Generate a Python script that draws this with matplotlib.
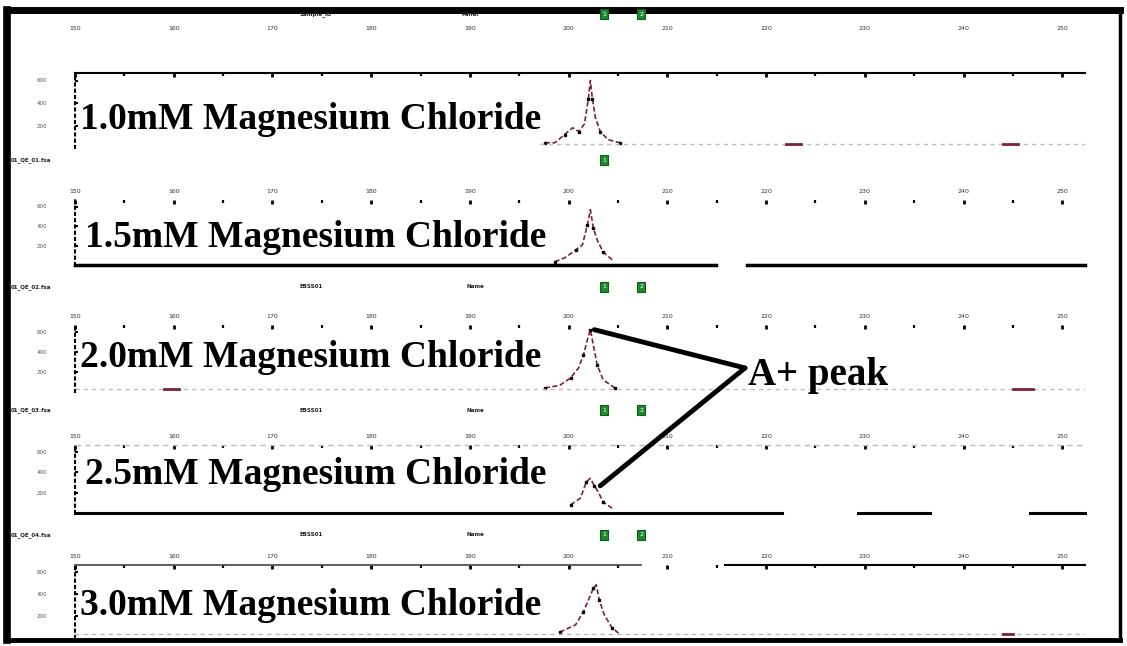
import matplotlib
matplotlib.use('Agg')
import matplotlib.pyplot as plt
from matplotlib.lines import Line2D
from matplotlib.patches import ConnectionPatch

# Mg2+ titration, five electropherogram panels (fragment size in bp)
labels = ['1.0mM Magnesium Chloride', '1.5mM Magnesium Chloride',
          '2.0mM Magnesium Chloride', '2.5mM Magnesium Chloride',
          '3.0mM Magnesium Chloride']
sample_names = ['', '01_QE_01.fsa', '01_QE_02.fsa', '01_QE_03.fsa', '01_QE_04.fsa']
size_ticks = [150, 160, 170, 180, 190, 200, 210, 220, 230, 240, 250]
rfu_ticks = [0.3, 0.6, 0.9]
rfu_labels = ['200', '400', '600']

# trace points (bp, relative height)
p1_x = [197.6, 198.6, 199.6, 200.4, 201.0, 201.6, 202.0, 202.2, 202.4, 202.7, 203.2, 204.0, 205.2]
p1_y = [0.07, 0.07, 0.18, 0.27, 0.22, 0.32, 0.66, 0.90, 0.66, 0.41, 0.22, 0.11, 0.07]
p2_x = [198.6, 199.6, 200.7, 201.4, 201.9, 202.2, 202.5, 202.9, 203.5, 204.4]
p2_y = [0.05, 0.11, 0.23, 0.31, 0.62, 0.85, 0.57, 0.38, 0.20, 0.08]
p3_x = [197.6, 199.1, 200.2, 201.0, 201.5, 201.9, 202.2, 202.5, 202.9, 203.5, 204.7]
p3_y = [0.06, 0.10, 0.21, 0.36, 0.55, 0.78, 0.93, 0.70, 0.40, 0.18, 0.06]
p4_x = [200.2, 201.2, 201.8, 202.2, 202.6, 203.0, 203.5, 204.4]
p4_y = [0.12, 0.22, 0.46, 0.51, 0.40, 0.31, 0.16, 0.07]
p5_x = [199.1, 200.7, 201.5, 202.0, 202.5, 202.8, 203.1, 203.6, 204.4, 205.2]
p5_y = [0.08, 0.18, 0.36, 0.52, 0.68, 0.73, 0.52, 0.32, 0.14, 0.05]
traces = [(p1_x, p1_y), (p2_x, p2_y), (p3_x, p3_y), (p4_x, p4_y), (p5_x, p5_y)]

# small off-peak blips on the baseline (bp start, bp end)
blips = [[(222.0, 223.5), (244.0, 245.5)], [], [(159.0, 160.5), (245.0, 247.0)], [], [(244.0, 245.0)]]

# where the A+ peak arrow touches panels 3 and 4
apeak_x = [202.6, 203.2]
apeak_y = [0.93, 0.40]

# panel boxes in figure pixels: (top, bottom)
panel_px = [(73, 148), (200, 265), (325, 392), (445, 513), (565, 638)]
text_y = [0.38, 0.42, 0.52, 0.56, 0.45]
header_y = [14, 160, 287, 410, 535]
# visible extent of the grey baseline in each panel (axes fraction), None = hidden
baseline_span = [(0.46, 1.0), None, (0.0, 1.0), None, (0.0, 1.0)]

W, H = 1127, 646
fig = plt.figure(figsize=(W / 100, H / 100), dpi=100)
serif = ['Liberation Serif', 'DejaVu Serif']
trace_col = '#7d2040'

axes = []
for i, (top, bot) in enumerate(panel_px):
    ax = fig.add_axes([75 / W, 1 - bot / H, 1010 / W, (bot - top) / H])
    axes.append(ax)
    ax.set_xlim(150, 252.3)
    ax.set_ylim(0, 1)
    ax.patch.set_alpha(0)

    ax.xaxis.tick_top()
    ax.set_xticks(size_ticks)
    ax.set_xticklabels([str(t) for t in size_ticks])
    ax.set_xticks([t + 5 for t in size_ticks[:-1]], minor=True)
    pad = 30 if i == 0 else 4
    ax.tick_params(axis='x', which='major', direction='in', length=3, width=2,
                   labelsize=4.5, pad=pad, labelcolor='#333333')
    ax.tick_params(axis='x', which='minor', direction='in', length=2, width=1.6,
                   top=True, bottom=False)
    ax.set_yticks(rfu_ticks)
    ax.set_yticklabels(rfu_labels)
    ax.tick_params(axis='y', direction='in', length=2, width=1.5,
                   labelsize=4, pad=20, labelcolor='#555555')

    for s in ['right', 'top', 'bottom']:
        ax.spines[s].set_visible(False)
    ax.spines['left'].set_linestyle((0, (1, 2)))
    ax.spines['left'].set_linewidth(1.5)

    # trace
    tx, ty = traces[i]
    ax.plot(tx, ty, color=trace_col, lw=1.2, ls=(0, (3, 1.5)))
    ax.plot(tx[::2], ty[::2], ls='none', marker='s', ms=1.8, color='black')

    # baseline
    if baseline_span[i] is not None:
        a, b = baseline_span[i]
        ax.axhline(0.05, xmin=a, xmax=b, color='#bbbbbb', lw=1, ls=(0, (3, 3)))
    for a, b in blips[i]:
        ax.plot([a, b], [0.05, 0.05], color=trace_col, lw=2)

    ax.text(0.005 if i in (0, 2, 4) else 0.01, text_y[i], labels[i],
            transform=ax.transAxes, fontsize=27, fontweight='bold',
            family=serif, va='center', ha='left')

# panel frame lines
frame = dict(clip_on=False)
axes[0].axhline(1, color='black', lw=1.5, **frame)
axes[1].axhline(0, xmax=0.635, color='black', lw=2.5, **frame)
axes[1].axhline(0, xmin=0.665, color='black', lw=2.5, **frame)
axes[3].axhline(1, color='#bbbbbb', lw=1, ls=(0, (4, 3)), **frame)
axes[3].axhline(0, xmax=0.70, color='black', lw=2.2, **frame)
axes[3].axhline(0, xmin=0.775, xmax=0.847, color='black', lw=2.2, **frame)
axes[3].axhline(0, xmin=0.946, color='black', lw=2.2, **frame)
axes[4].axhline(1, xmax=0.56, color='#444444', lw=1.2, **frame)
axes[4].axhline(1, xmin=0.644, color='black', lw=1.5, **frame)

# sample header strip above each panel
for i, hy in enumerate(header_y):
    y = 1 - hy / H
    fs = dict(fontsize=4, fontweight='bold', color='#222222', va='center')
    if i == 0:
        fig.text(35 / W, y, '-', **fs)
        fig.text(300 / W, y, 'Sample_ID', **fs)
        fig.text(462 / W, y, 'Panel', **fs)
    else:
        fig.text(11 / W, y, sample_names[i], **fs)
        if i != 1:
            fig.text(300 / W, y, 'EBSS01', **fs)
            fig.text(466 / W, y, 'Name', **fs)
    box = dict(boxstyle='square,pad=0.35', fc='#1d8a2c', ec='#0f5c1a', lw=0.8)
    fig.text(604 / W, y, '1', fontsize=4.5, color='white', ha='center', va='center', bbox=box)
    if i != 1:
        fig.text(641 / W, y, '2', fontsize=4.5, color='white', ha='center', va='center', bbox=box)

# A+ peak callout
tip = (745 / W, 1 - 368 / H)
for ax, px, py in zip([axes[2], axes[3]], apeak_x, apeak_y):
    con = ConnectionPatch(xyA=(px, py), coordsA=ax.transData,
                          xyB=tip, coordsB=fig.transFigure,
                          color='black', lw=3.5, capstyle='round')
    fig.add_artist(con)
fig.text(748 / W, 1 - 376 / H, 'A+ peak', fontsize=28, fontweight='bold',
         family=serif, va='center', ha='left')

# outer frame of the scanned figure: heavy top/left, lighter right/bottom
x0, x1 = 7 / W, 1120 / W
y0, y1 = 1 - 640 / H, 1 - 10 / H
for xs, ys, lw in [([x0, x1], [y1, y1], 5), ([x0, x0], [y0, y1], 5.5),
                   ([x1, x1], [y0, y1], 2.5), ([x0, x1], [y0, y0], 3.5)]:
    fig.add_artist(Line2D(xs, ys, transform=fig.transFigure, color='black',
                          lw=lw, solid_capstyle='projecting'))

plt.savefig('out.png', dpi=100)
